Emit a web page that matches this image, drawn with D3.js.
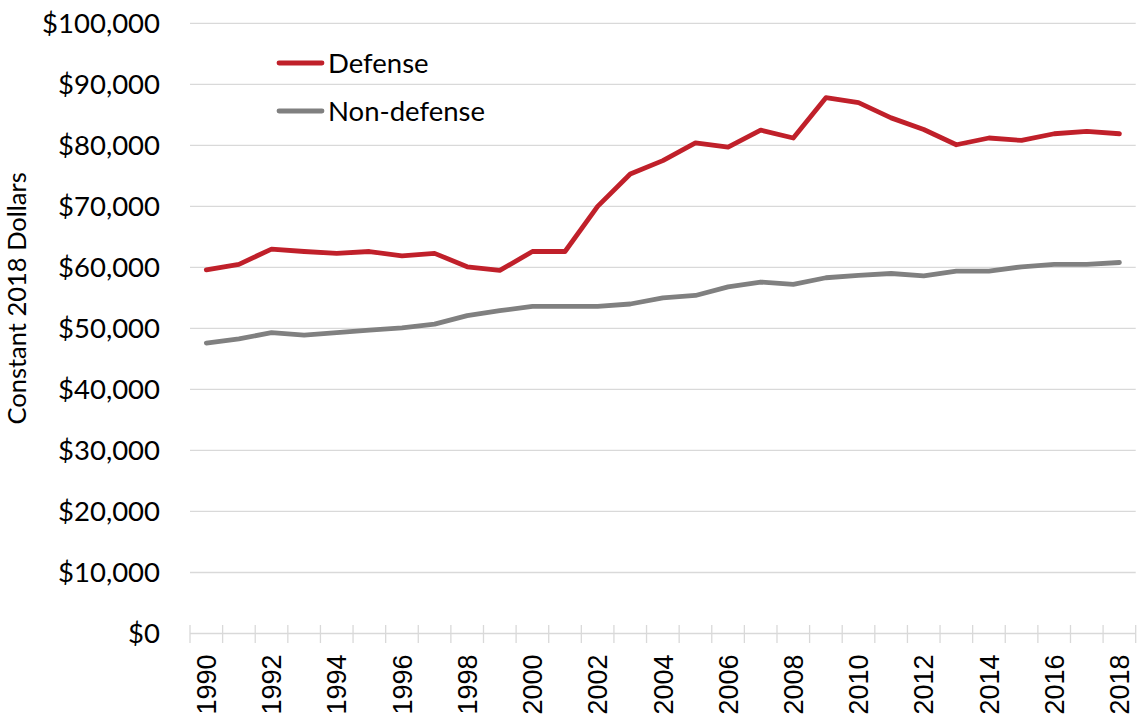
<!DOCTYPE html>
<html>
<head>
<meta charset="utf-8">
<script src="https://cdn.jsdelivr.net/npm/d3@7"></script>
<style>
  html, body { margin: 0; padding: 0; background: #fff; }
  svg { display: block; }
</style>
</head>
<body>
<svg id="chart" width="1147" height="719"></svg>
<script>
const years = d3.range(1990, 2019).map(String);
const defense = [59600, 60500, 63000, 62600, 62300, 62600, 61900, 62300, 60100, 59500, 62600, 62600,
  70000, 75300, 77500, 80400, 79700, 82500, 81200, 87800, 87000, 84500, 82600, 80100, 81200, 80800, 81900, 82300, 81900];
const nonDefense = [47600, 48300, 49300, 48900, 49300, 49700, 50100, 50700, 52100, 52900, 53600, 53600,
  53600, 54000, 55000, 55400, 56800, 57600, 57200, 58300, 58700, 59000, 58600, 59400, 59400, 60100, 60500, 60500, 60800];
const yTicks = [0, 10000, 20000, 30000, 40000, 50000, 60000, 70000, 80000, 90000, 100000];
const xLabels = years.filter((d, i) => i % 2 === 0);
const seriesNames = ["Defense", "Non-defense"];
const seriesColors = ["#c0202a", "#808080"];

const svg = d3.select("#chart");
const pLeft = 190, pRight = 1135.7, pTop = 23.3, pBottom = 633.5;

const x = d3.scaleBand().domain(years).range([pLeft, pRight]).padding(0);
const y = d3.scaleLinear().domain([0, 100000]).range([pBottom, pTop]);
const cx = d => x(d) + x.bandwidth() / 2;

// gridlines
svg.append("g").selectAll("line").data(yTicks.filter(t => t > 0)).join("line")
  .attr("x1", pLeft).attr("x2", pRight)
  .attr("y1", d => y(d)).attr("y2", d => y(d))
  .attr("stroke", "#d9d9d9").attr("stroke-width", 1.3);

// y axis labels
const fmt = d => "$" + d3.format(",")(d);
const yAxis = d3.axisLeft(y).tickValues(yTicks).tickFormat(fmt).tickSize(0).tickPadding(30);
const gy = svg.append("g").attr("transform", `translate(${pLeft},0)`).call(yAxis);
gy.select(".domain").remove();
gy.selectAll("text").attr("font-family", "Lato, 'Open Sans', sans-serif").attr("font-size", 27.5).attr("fill", "#000");

// y axis title
svg.append("text")
  .attr("transform", `translate(26,${(pTop + pBottom) / 2 - 30}) rotate(-90)`)
  .attr("text-anchor", "middle")
  .attr("font-family", "Lato, 'Open Sans', sans-serif").attr("font-size", 25.5).attr("fill", "#000")
  .text("Constant 2018 Dollars");

// x axis line
svg.append("line").attr("x1", pLeft).attr("x2", pRight).attr("y1", pBottom).attr("y2", pBottom)
  .attr("stroke", "#d9d9d9").attr("stroke-width", 1.3);
// tick marks at band boundaries
const bounds = years.map(d => x(d)).concat([x(years[years.length - 1]) + x.bandwidth()]);
svg.append("g").selectAll("line").data(bounds).join("line")
  .attr("x1", d => d).attr("x2", d => d).attr("y1", pBottom - 8.5).attr("y2", pBottom + 9.5)
  .attr("stroke", "#d9d9d9").attr("stroke-width", 1.3);

// x labels
svg.append("g").selectAll("text").data(xLabels).join("text")
  .attr("transform", d => `translate(${cx(d)},${pBottom + 21}) rotate(-90)`)
  .attr("text-anchor", "end").attr("dy", "0.36em")
  .attr("font-family", "'Liberation Sans', Arial, sans-serif").attr("font-size", 27).attr("fill", "#000")
  .text(d => d);

// lines
const line = d3.line().x((d, i) => cx(years[i])).y(d => y(d));
[defense, nonDefense].forEach((s, k) => {
  svg.append("path").datum(s).attr("d", line)
    .attr("fill", "none").attr("stroke", seriesColors[k]).attr("stroke-width", 4.8)
    .attr("stroke-linejoin", "round").attr("stroke-linecap", "round");
});

// legend
const lg = svg.append("g");
seriesNames.forEach((n, k) => {
  const ly = 63 + k * 48;
  lg.append("line").attr("x1", 279).attr("x2", 322).attr("y1", ly).attr("y2", ly)
    .attr("stroke", seriesColors[k]).attr("stroke-width", 4.8).attr("stroke-linecap", "round");
  lg.append("text").attr("x", 328).attr("y", ly).attr("dy", "0.35em")
    .attr("font-family", "Lato, 'Open Sans', sans-serif").attr("font-size", 27.5).attr("fill", "#000")
    .text(n);
});
</script>
</body>
</html>
